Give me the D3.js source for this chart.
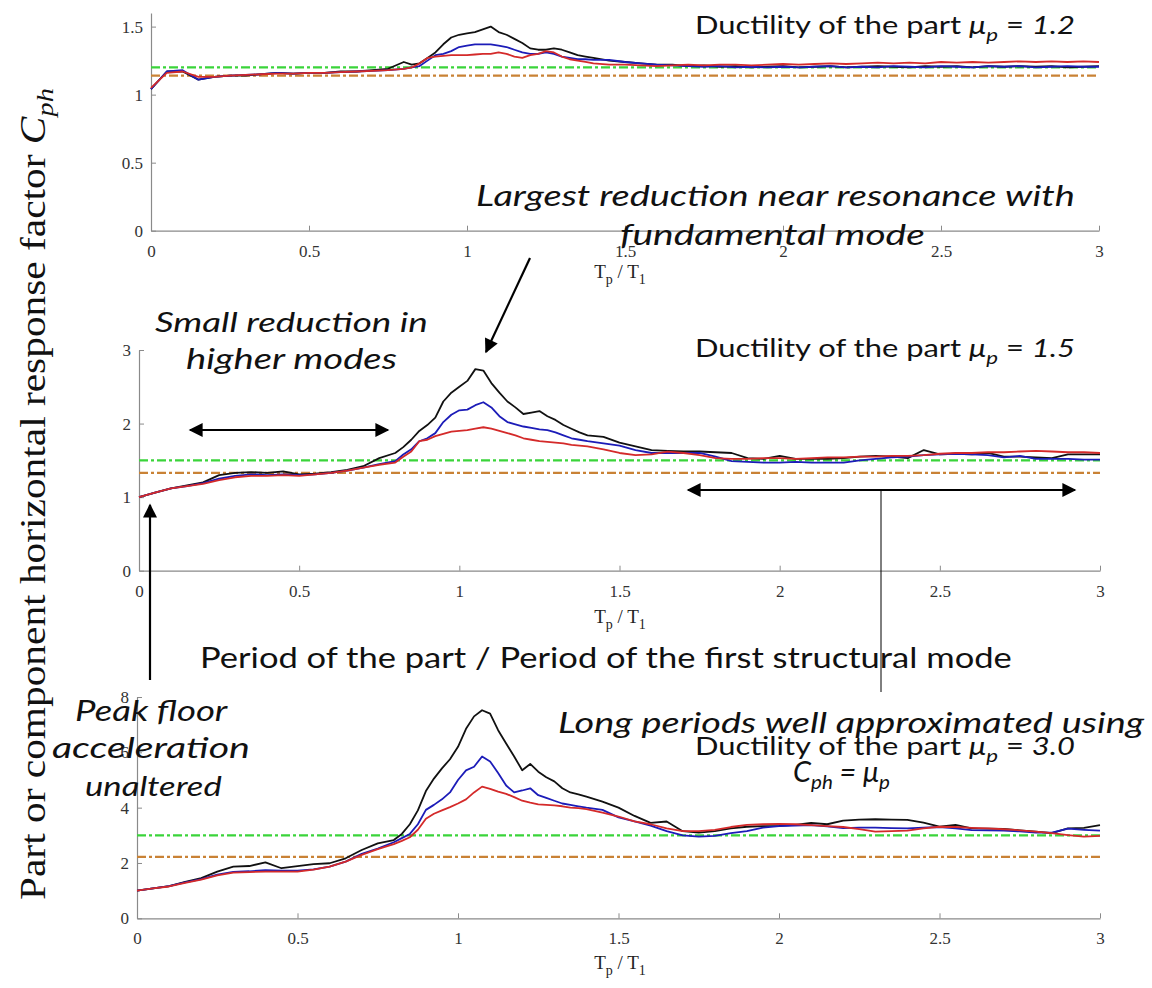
<!DOCTYPE html>
<html><head><meta charset="utf-8">
<script src="https://cdn.jsdelivr.net/npm/d3@7"></script>
<style>body{margin:0;background:#fff} .serif{font-family:"Liberation Serif","Times New Roman",serif}</style>
</head><body><svg id="c" width="1152" height="988"></svg>
<script>
// ---------------- DATA ----------------
const XS = [0,0.05,0.1,0.15,0.2,0.25,0.3,0.35,0.4,0.45,0.5,0.55,0.6,0.65,0.7,0.75,0.8,
  0.825,0.85,0.875,0.9,0.925,0.95,0.975,1.0,1.025,1.05,1.075,1.1,1.125,1.15,1.175,1.2,1.225,1.25,1.275,1.3,1.325,1.35,1.375,1.4,
  1.45,1.5,1.55,1.6,1.65,1.7,1.75,1.8,1.85,1.9,1.95,2.0,
  2.05,2.1,2.15,2.2,2.25,2.3,2.35,2.4,2.45,2.5,2.55,2.6,2.65,2.7,2.75,2.8,2.85,2.9,2.95,3.0];

const P1_BLACK = [1.04,1.17,1.17,1.11,1.13,1.14,1.14,1.15,1.16,1.155,1.16,1.16,1.17,1.17,1.18,1.19,1.24,
  1.22,1.23,1.27,1.31,1.37,1.42,1.44,1.45,1.46,1.48,1.50,1.46,1.44,1.41,1.38,1.34,1.33,1.33,1.34,1.33,1.31,1.29,1.28,1.27,
  1.25,1.24,1.23,1.22,1.22,1.21,1.215,1.205,1.21,1.20,1.205,1.21,
  1.20,1.205,1.21,1.20,1.205,1.21,1.205,1.20,1.21,1.205,1.21,1.20,1.21,1.205,1.21,1.205,1.21,1.20,1.205,1.21];
const P1_BLUE = [1.04,1.17,1.18,1.11,1.13,1.14,1.145,1.15,1.16,1.155,1.16,1.16,1.165,1.17,1.175,1.18,1.19,
  1.20,1.21,1.25,1.29,1.30,1.32,1.35,1.36,1.37,1.37,1.37,1.36,1.35,1.33,1.31,1.30,1.30,1.31,1.30,1.28,1.27,1.26,1.26,1.255,
  1.255,1.24,1.23,1.22,1.215,1.21,1.205,1.21,1.20,1.205,1.20,1.205,
  1.20,1.205,1.21,1.20,1.205,1.20,1.21,1.205,1.20,1.21,1.205,1.20,1.21,1.205,1.21,1.20,1.205,1.21,1.205,1.205];
const P1_RED = [1.05,1.16,1.17,1.13,1.13,1.14,1.145,1.15,1.155,1.155,1.16,1.16,1.165,1.17,1.175,1.18,1.19,
  1.20,1.23,1.27,1.28,1.285,1.29,1.29,1.29,1.295,1.30,1.30,1.31,1.30,1.28,1.27,1.29,1.30,1.32,1.31,1.28,1.26,1.25,1.24,1.23,
  1.22,1.22,1.215,1.21,1.215,1.22,1.215,1.22,1.22,1.215,1.22,1.225,
  1.22,1.225,1.23,1.225,1.23,1.235,1.23,1.235,1.23,1.24,1.235,1.24,1.235,1.24,1.245,1.24,1.245,1.24,1.245,1.24];

const P2_BLACK = [1.00,1.06,1.12,1.16,1.20,1.30,1.33,1.34,1.33,1.35,1.31,1.32,1.34,1.37,1.42,1.53,1.60,
  1.68,1.78,1.90,1.98,2.08,2.30,2.42,2.50,2.58,2.74,2.72,2.55,2.42,2.30,2.22,2.13,2.15,2.17,2.10,2.05,1.98,1.93,1.88,1.84,
  1.82,1.74,1.69,1.64,1.63,1.62,1.62,1.61,1.60,1.53,1.52,1.56,
  1.52,1.52,1.52,1.53,1.55,1.56,1.55,1.53,1.64,1.58,1.59,1.58,1.60,1.55,1.55,1.54,1.53,1.58,1.58,1.58];
const P2_BLUE = [1.00,1.06,1.12,1.15,1.19,1.25,1.29,1.31,1.30,1.31,1.30,1.31,1.33,1.36,1.40,1.45,1.49,
  1.58,1.65,1.76,1.80,1.87,2.02,2.12,2.18,2.19,2.25,2.29,2.22,2.10,2.02,1.99,1.96,1.94,1.92,1.91,1.88,1.84,1.80,1.78,1.76,
  1.73,1.70,1.64,1.60,1.60,1.60,1.60,1.55,1.49,1.48,1.47,1.47,
  1.48,1.47,1.47,1.47,1.50,1.52,1.54,1.55,1.57,1.58,1.59,1.58,1.57,1.54,1.56,1.52,1.52,1.52,1.51,1.51];
const P2_RED = [1.00,1.06,1.12,1.15,1.18,1.23,1.27,1.29,1.29,1.30,1.29,1.31,1.33,1.36,1.40,1.44,1.47,
  1.55,1.62,1.76,1.78,1.83,1.86,1.89,1.90,1.91,1.93,1.95,1.93,1.90,1.87,1.84,1.80,1.78,1.76,1.75,1.74,1.73,1.71,1.70,1.69,
  1.65,1.60,1.57,1.58,1.62,1.60,1.57,1.53,1.52,1.52,1.53,1.53,
  1.52,1.53,1.54,1.54,1.55,1.55,1.56,1.56,1.57,1.59,1.60,1.60,1.61,1.61,1.62,1.63,1.62,1.61,1.61,1.60];

const P3_BLACK = [1.00,1.08,1.16,1.32,1.45,1.69,1.87,1.89,2.02,1.81,1.89,1.96,1.99,2.17,2.47,2.71,2.83,
  3.05,3.40,3.90,4.60,5.05,5.42,5.75,6.20,6.85,7.30,7.52,7.40,6.80,6.32,5.85,5.35,5.58,5.30,5.10,4.95,4.70,4.55,4.48,4.40,
  4.22,4.00,3.70,3.45,3.50,3.15,3.10,3.15,3.25,3.31,3.33,3.34,
  3.38,3.45,3.40,3.53,3.57,3.58,3.57,3.56,3.46,3.31,3.38,3.25,3.24,3.23,3.18,3.13,3.08,3.25,3.27,3.37];
const P3_BLUE = [1.00,1.08,1.16,1.30,1.42,1.58,1.68,1.70,1.74,1.72,1.72,1.77,1.87,2.05,2.33,2.52,2.75,
  2.90,3.05,3.40,3.92,4.10,4.30,4.55,5.00,5.35,5.48,5.85,5.67,5.25,4.80,4.55,4.62,4.70,4.45,4.35,4.25,4.15,4.10,4.05,4.00,
  3.92,3.65,3.50,3.35,3.15,3.00,2.95,2.98,3.08,3.15,3.28,3.33,
  3.35,3.37,3.32,3.26,3.28,3.28,3.26,3.25,3.28,3.30,3.25,3.19,3.18,3.17,3.14,3.10,3.10,3.24,3.20,3.17];
const P3_RED = [1.00,1.08,1.15,1.28,1.40,1.55,1.65,1.67,1.69,1.69,1.69,1.76,1.87,2.05,2.29,2.50,2.68,
  2.80,2.93,3.20,3.60,3.78,3.90,4.02,4.15,4.30,4.55,4.76,4.68,4.58,4.50,4.38,4.25,4.18,4.12,4.10,4.08,4.05,4.00,3.98,3.95,
  3.82,3.68,3.50,3.40,3.25,3.15,3.15,3.20,3.30,3.38,3.40,3.41,
  3.40,3.37,3.33,3.30,3.22,3.13,3.15,3.17,3.25,3.31,3.30,3.27,3.25,3.22,3.18,3.13,3.08,3.01,2.95,2.98];

const X_TICKS = [0,0.5,1,1.5,2,2.5,3];
const P1_Y_TICKS = [0,0.5,1,1.5];
const P2_Y_TICKS = [0,1,2,3];
const P3_Y_TICKS = [0,2,4,6,8];
const Y_MAX = [1.6, 3, 8];
const MU_P = ["1.2","1.5","3.0"];
const GREEN_REF = [1.2, 1.5, 3.0];
const ORANGE_REF = [1.14, 1.33, 2.22];

// ---------------- DRAW ----------------
const svg = d3.select('#c');
const SERIF = '"Liberation Serif","Times New Roman",serif';
const SANS = "Lato,'Open Sans',sans-serif";

const panels = [
  {xr:[151,1099], yr:[230.7,13], yt:P1_Y_TICKS, s:[P1_BLACK,P1_BLUE,P1_RED], ymax:Y_MAX[0], g:GREEN_REF[0], o:ORANGE_REF[0], xl:272},
  {xr:[139,1100], yr:[570.7,350], yt:P2_Y_TICKS, s:[P2_BLACK,P2_BLUE,P2_RED], ymax:Y_MAX[1], g:GREEN_REF[1], o:ORANGE_REF[1], xl:617},
  {xr:[137,1100], yr:[918.3,697], yt:P3_Y_TICKS, s:[P3_BLACK,P3_BLUE,P3_RED], ymax:Y_MAX[2], g:GREEN_REF[2], o:ORANGE_REF[2], xl:963}
];
const COLORS = ['#111111','#1c1cb8','#d42a2a'];

panels.forEach((p,i) => {
  const x = d3.scaleLinear().domain([0,3]).range(p.xr);
  const y = d3.scaleLinear().domain([0,p.ymax]).range(p.yr);
  const g = svg.append('g');

  const xa = g.append('g').attr('transform',`translate(0,${p.yr[0]})`)
    .call(d3.axisBottom(x).tickValues(X_TICKS).tickFormat(d=>d).tickSizeInner(-5).tickSizeOuter(0).tickPadding(14));
  const ya = g.append('g').attr('transform',`translate(${p.xr[0]},0)`)
    .call(d3.axisLeft(y).tickValues(p.yt).tickFormat(d=>d).tickSizeInner(-5).tickSizeOuter(0).tickPadding(8));
  [xa,ya].forEach(a => {
    a.attr('font-family',null).attr('font-size',null);
    a.selectAll('.domain').attr('stroke','#8a8a8a').attr('stroke-width',1.2);
    a.selectAll('.tick line').attr('stroke','#8a8a8a');
    a.selectAll('.tick text').attr('class','serif').attr('fill','#333').style('font-size','17px');
  });

  // reference lines
  g.append('line').attr('x1',x(0)).attr('x2',x(3)).attr('y1',y(p.o)).attr('y2',y(p.o))
    .attr('stroke','#c98235').attr('stroke-width',2.2).attr('stroke-dasharray','9,3,3,3');
  g.append('line').attr('x1',x(0)).attr('x2',x(3)).attr('y1',y(p.g)).attr('y2',y(p.g))
    .attr('stroke','#3ad43a').attr('stroke-width',2.2).attr('stroke-dasharray','9,3,3,3');

  const line = d3.line().x((d,k)=>x(XS[k])).y(d=>y(d));
  p.s.forEach((s,k) => {
    g.append('path').datum(s).attr('d',line).attr('fill','none')
      .attr('stroke',COLORS[k]).attr('stroke-width',1.8).attr('stroke-linejoin','round');
  });

  // x-axis label
  const t = g.append('text').attr('class','serif').attr('x',620).attr('y',p.xl+6).attr('text-anchor','middle')
    .style('font-size','19px').attr('fill','#222');
  t.append('tspan').text('T');
  t.append('tspan').attr('dy',6).style('font-size','14px').text('p');
  t.append('tspan').attr('dy',-6).text(' / T');
  t.append('tspan').attr('dy',6).style('font-size','14px').text('1');
});

// ---------------- ANNOTATIONS ----------------
function fit(sel, x0, x1) {
  const bb = sel.node().getBBox();
  const s = (x1 - x0) / bb.width;
  sel.attr('transform', `translate(${x0},0) scale(${s},1) translate(${-bb.x},0)`);
}
function note(str, x0, x1, base, italic=true, size=28) {
  const t = svg.append('text').attr('x',0).attr('y',base)
    .style('font-family',SANS).style('font-size',size+'px')
    .style('font-style', italic ? 'italic' : 'normal').attr('fill','#111').text(str);
  fit(t, x0, x1);
  return t;
}
function ductility(val, base) {
  const t = svg.append('text').attr('x',0).attr('y',base)
    .style('font-family',SANS).style('font-size','25px').attr('fill','#111');
  t.append('tspan').text('Ductility of the part ');
  t.append('tspan').style('font-style','italic').text('μ');
  t.append('tspan').attr('dy',7).style('font-style','italic').style('font-size','18px').text('p');
  t.append('tspan').attr('dy',-7).text(' = ');
  t.append('tspan').style('font-style','italic').text(val);
  fit(t, 695, 1075);
}
ductility(MU_P[0], 34);
ductility(MU_P[1], 357);

note('Largest reduction near resonance with', 476, 1075, 206);
note('fundamental mode', 620, 925, 245);
note('Small reduction in', 155, 428, 332);
note('higher modes', 186, 397, 369);
note('Period of the part / Period of the first structural mode', 200, 1012, 668, false, 28);
note('Peak floor', 75, 228, 721);
note('acceleration', 52, 250, 758);
note('unaltered', 85, 222, 796);
note('Long periods well approximated using', 558, 1145, 733);
ductility(MU_P[2], 755);
{
  const t = svg.append('text').attr('x',0).attr('y',782)
    .style('font-family',SANS).style('font-size','28px').style('font-style','italic').attr('fill','#111');
  t.append('tspan').text('C');
  t.append('tspan').attr('dy',7).style('font-size','20px').text('ph');
  t.append('tspan').attr('dy',-7).text(' = μ');
  t.append('tspan').attr('dy',7).style('font-size','20px').text('p');
  fit(t, 793, 890);
}

// y-axis title (rotated)
{
  const g = svg.append('g');
  const t = g.append('text').attr('class','serif').attr('x',0).attr('y',0)
    .style('font-size','35px').attr('fill','#111');
  t.append('tspan').text('Part or component horizontal response factor ');
  t.append('tspan').style('font-style','italic').text('C');
  t.append('tspan').attr('dy',8).style('font-style','italic').style('font-size','24px').text('ph');
  const bb = t.node().getBBox();
  const s = (900 - 88) / bb.width;
  g.attr('transform', `translate(45,900) rotate(-90) scale(${s},1) translate(${-bb.x},0)`);
}

// arrows
const defs = svg.append('defs');
defs.append('marker').attr('id','ah').attr('viewBox','0 0 10 10').attr('refX',9).attr('refY',5)
  .attr('markerWidth',16).attr('markerHeight',14).attr('markerUnits','userSpaceOnUse')
  .attr('orient','auto-start-reverse')
  .append('path').attr('d','M0,0 L10,5 L0,10 z').attr('fill','#000');

function arrow(x1,y1,x2,y2,both,w=2.2) {
  const l = svg.append('line').attr('x1',x1).attr('y1',y1).attr('x2',x2).attr('y2',y2)
    .attr('stroke','#000').attr('stroke-width',w).attr('marker-end','url(#ah)');
  if (both) l.attr('marker-start','url(#ah)');
}
arrow(530,258,486,352,false);
arrow(190,430,388,430,true);
arrow(688,490,1075,490,true);
svg.append('line').attr('x1',881).attr('x2',881).attr('y1',490).attr('y2',692).attr('stroke','#000').attr('stroke-width',1);
arrow(150,680,150,505,false);
</script></body></html>
